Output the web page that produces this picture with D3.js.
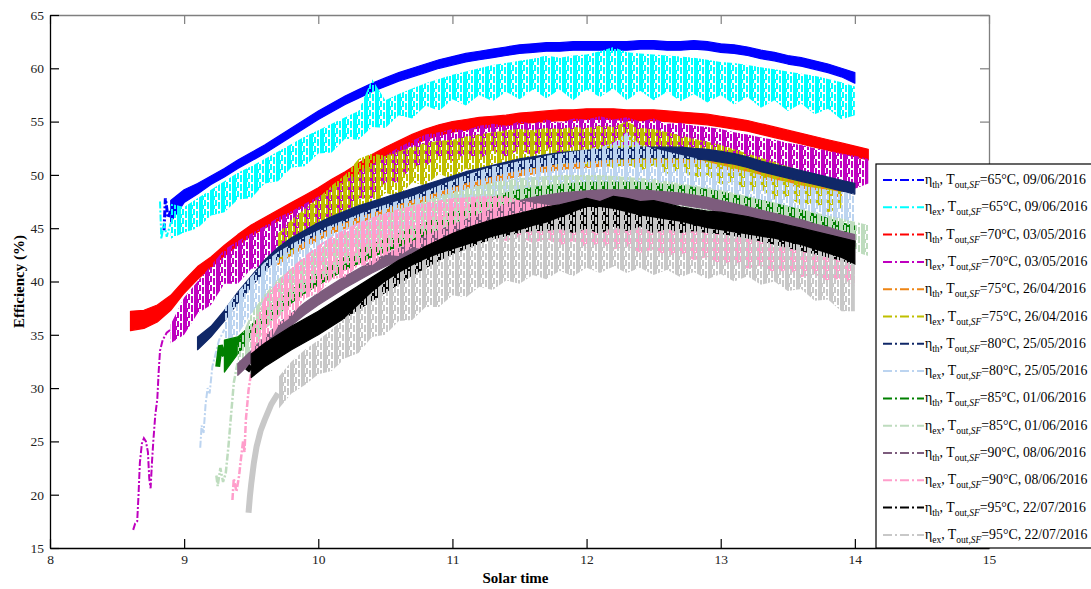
<!DOCTYPE html>
<html><head><meta charset="utf-8">
<script src="https://cdn.jsdelivr.net/npm/d3@7"></script>
<style>body{margin:0;background:#fff;}svg{display:block;}</style>
</head><body>
<svg id="chart" width="1091" height="589"></svg>
<script>
// ---------- data ----------
const solarTime = [8.6,8.7,8.8,8.9,9.0,9.1,9.2,9.3,9.4,9.5,9.6,9.7,9.8,9.9,10.0,10.1,10.2,10.3,10.4,10.5,10.6,10.7,10.8,10.9,11.0,11.1,11.2,11.3,11.4,11.5,11.6,11.7,11.8,11.9,12.0,12.1,12.2,12.3,12.4,12.5,12.6,12.7,12.8,12.9,13.0,13.1,13.2,13.3,13.4,13.5,13.6,13.7,13.8,13.9,14.0,14.1];
const xTicks = [8,9,10,11,12,13,14,15];
const yTicks = [15,20,25,30,35,40,45,50,55,60,65];
const etaSub = ['th','ex','th','ex','th','ex','th','ex','th','ex','th','ex','th','ex'];
const outletTemp = [65,65,70,70,75,75,80,80,85,85,90,90,95,95];
const testDate = ['09/06/2016','09/06/2016','03/05/2016','03/05/2016','26/04/2016','26/04/2016','25/05/2016','25/05/2016','01/06/2016','01/06/2016','08/06/2016','08/06/2016','22/07/2016','22/07/2016'];

// [min, max] efficiency per 0.1 h bin, starting at the given solar time
const blueTh65 = [[45.6,47.6],[47.4,48.6],[48.2,49.2],[49.1,49.9],[49.8,50.6],[50.6,51.4],[51.3,52.1],[52.0,52.8],[52.8,53.6],[53.6,54.4],
[54.4,55.2],[55.2,56.0],[55.9,56.7],[56.6,57.4],[57.2,58.0],[57.8,58.6],[58.3,59.1],[58.8,59.6],[59.2,60.0],[59.6,60.4],
[60.0,60.8],[60.3,61.1],[60.6,61.4],[60.8,61.6],[61.0,61.8],[61.2,62.0],[61.4,62.2],[61.5,62.3],[61.6,62.4],[61.6,62.4],
[61.7,62.5],[61.7,62.5],[61.7,62.5],[61.7,62.5],[61.7,62.5],[61.8,62.6],[61.8,62.6],[61.7,62.5],[61.7,62.5],[61.8,62.6],
[61.7,62.5],[61.5,62.3],[61.4,62.2],[61.2,62.0],[60.9,61.7],[60.7,61.5],[60.4,61.2],[60.2,61.0],[59.9,60.7],[59.6,60.4],
[59.2,60.0],[58.6,59.6]];
const cyanEx65 = [[44.0,47.3],[44.6,47.0],[45.0,47.8],[46.2,48.6],[46.5,49.4],[47.7,50.2],[47.8,50.8],[49.2,51.5],[49.4,52.2],[50.7,52.9],
[50.8,53.6],[52.0,54.2],[52.1,54.8],[53.4,55.4],[53.3,56.0],[54.5,59.0],[54.4,57.0],[55.6,57.6],[55.3,58.1],[56.5,58.6],
[56.0,59.0],[57.1,59.4],[56.5,59.7],[57.5,60.0],[56.9,60.3],[57.8,60.5],[57.1,60.7],[58.0,60.9],[57.2,61.2],[58.0,61.0],
[57.0,61.2],[58.0,61.3],[57.3,61.6],[58.1,62.0],[57.0,61.5],[57.9,61.4],[57.0,61.3],[57.8,61.2],[56.9,61.1],[57.6,61.0],
[56.8,60.8],[57.5,60.6],[56.6,60.5],[57.3,60.3],[56.3,60.1],[57.0,59.9],[56.0,59.7],[56.7,59.5],[55.7,59.3],[56.2,59.0],
[55.2,58.7],[55.6,58.3]];
const redTh70 = [[35.4,37.2],[35.6,37.3],[36.2,37.8],[37.3,38.7],[38.9,40.1],[40.2,41.4],[41.3,42.3],[42.4,43.4],[43.4,44.4],[44.3,45.3],
[45.0,46.0],[45.7,46.7],[46.4,47.4],[47.1,48.1],[47.8,48.8],[48.6,49.6],[49.3,50.3],[50.1,51.1],[50.9,51.9],[51.6,52.6],
[52.2,53.2],[52.8,53.8],[53.3,54.3],[53.7,54.7],[54.0,55.0],[54.2,55.2],[54.4,55.4],[54.5,55.5],[54.6,55.6],[54.8,55.8],
[54.9,55.9],[55.0,56.0],[55.1,56.1],[55.1,56.1],[55.2,56.2],[55.2,56.2],[55.2,56.2],[55.1,56.1],[55.1,56.1],[55.1,56.1],
[55.0,56.0],[54.9,55.9],[54.8,55.8],[54.7,55.7],[54.5,55.5],[54.3,55.3],[54.1,55.1],[53.8,54.8],[53.5,54.5],[53.2,54.2],
[52.9,53.9],[52.6,53.6],[52.3,53.3],[52.0,53.0],[51.7,52.7],[51.4,52.4]];
const magentaEx70 = [[34.2,36.0],[35.0,38.5],[37.0,40.0],[37.8,41.5],[39.8,43.0],[39.8,43.8],[41.2,44.5],[41.3,45.2],[42.8,46.0],[42.8,46.6],
[44.5,47.3],[44.8,48.0],[46.2,48.8],[46.3,49.6],[47.8,50.3],[47.8,51.0],[49.3,51.8],[49.3,52.6],[50.8,53.2],[50.8,53.8],
[51.8,54.0],[51.3,54.3],[52.0,54.2],[51.5,54.6],[52.3,54.8],[51.7,54.6],[52.4,55.0],[51.8,54.8],[52.6,55.2],[51.9,54.9],
[52.7,55.3],[52.1,55.2],[52.7,55.5],[52.1,55.2],[52.6,55.4],[52.0,55.0],[52.5,55.3],[51.7,54.8],[52.3,54.9],[51.4,54.6],
[51.9,54.5],[51.0,54.3],[51.5,54.0],[50.6,53.8],[51.0,53.5],[50.1,53.3],[50.5,53.0],[49.6,52.8],[50.0,52.5],[49.1,52.3],
[49.6,52.0],[48.7,51.8],[49.2,51.5]];
const orangeTh75 = [[41.6,42.4],[42.5,43.3],[43.2,44.0],[43.9,44.7],[44.5,45.3],[45.0,45.8],[45.5,46.3],[45.9,46.7],[46.3,47.1],[46.7,47.5],
[47.1,47.9],[47.5,48.3],[47.9,48.7],[48.3,49.1],[48.7,49.5],[49.0,49.8],[49.3,50.1],[49.6,50.4],[49.9,50.7],[50.1,50.9],
[50.3,51.1],[50.5,51.3],[50.6,51.4],[50.7,51.5],[50.8,51.6],[50.9,51.7],[50.9,51.7],[51.0,51.8],[51.0,51.8],[51.0,51.8],
[51.0,51.8],[50.9,51.7],[50.8,51.6],[50.6,51.4],[50.4,51.2],[50.1,50.9],[49.7,50.5],[49.4,50.2],[49.1,49.9],[48.8,49.6],
[48.5,49.3],[48.2,49.0],[47.9,48.7]];
const yellowEx75 = [[42.0,44.5],[42.6,45.8],[44.0,46.8],[44.4,47.8],[45.8,49.0],[45.9,50.0],[47.2,51.5],[47.0,52.0],[48.3,51.8],[48.0,52.2],
[49.3,52.6],[49.0,53.0],[50.1,53.2],[49.6,53.3],[50.6,53.6],[50.1,53.8],[51.0,54.0],[50.5,54.2],[51.2,54.3],[50.6,54.2],
[51.3,54.4],[50.8,54.3],[51.4,54.5],[50.8,54.4],[51.3,54.6],[50.6,54.5],[51.1,55.0],[50.4,54.4],[50.9,54.3],[50.1,54.0],
[50.5,53.7],[49.7,53.4],[50.0,53.1],[49.1,52.8],[49.4,52.4],[48.4,52.0],[48.7,51.6],[47.7,51.2],[48.0,50.8],[47.1,50.4],
[47.4,50.0],[46.5,49.6],[46.9,49.3]];
const navyTh80 = [[33.6,34.8],[34.8,35.8],[36.3,37.3],[38.0,39.0],[39.5,40.5],[41.0,42.0],[42.2,43.2],[43.1,44.1],[43.8,44.8],[44.5,45.5],
[45.1,46.1],[45.6,46.6],[46.1,47.1],[46.5,47.5],[46.9,47.9],[47.3,48.3],[47.7,48.7],[48.1,49.1],[48.5,49.5],[48.9,49.9],
[49.3,50.3],[49.6,50.6],[49.9,50.9],[50.2,51.2],[50.5,51.5],[50.7,51.7],[50.9,51.9],[51.1,52.1],[51.2,52.2],[51.3,52.3],
[51.4,52.4],[51.5,52.5],[51.5,52.5],[51.6,52.6],[51.6,52.6],[51.6,52.6],[51.6,52.6],[51.5,52.5],[51.4,52.4],[51.2,52.2],
[51.0,52.0],[50.7,51.7],[50.3,51.3],[50.0,51.0],[49.7,50.7],[49.4,50.4],[49.1,50.1],[48.8,49.8],[48.5,49.5],[48.2,49.2]];
const lightBlueEx80 = [[34.0,37.5],[35.0,39.0],[37.0,40.5],[38.0,41.8],[39.5,42.8],[40.0,43.5],[41.2,44.2],[41.3,44.8],[42.5,45.3],[42.5,45.8],
[43.5,46.3],[43.5,46.8],[44.5,47.2],[44.5,47.6],[45.5,48.0],[45.5,48.5],[46.4,49.0],[46.3,49.5],[47.2,50.0],[47.0,50.4],
[48.0,50.8],[47.6,51.0],[48.6,51.3],[48.1,51.5],[49.0,51.8],[48.4,52.0],[49.2,52.2],[48.6,52.4],[49.3,52.6],[48.7,53.0],
[49.2,54.0],[48.5,52.8],[49.0,52.5],[48.3,52.2],[48.8,51.9],[48.0,51.6],[48.4,51.2],[47.6,50.9],[47.9,50.6],[47.0,50.3],
[47.3,50.0],[46.4,49.6],[46.8,49.3],[45.9,49.0],[46.3,48.8],[45.5,48.6],[45.9,48.4],[45.2,48.2]];
const greenTh85 = [[31.5,34.5],[33.2,34.8],[34.7,35.9],[35.9,37.1],[37.0,38.2],[38.0,39.2],[38.9,40.1],[39.7,40.9],[40.4,41.6],[41.1,42.3],
[41.7,42.9],[42.3,43.5],[42.8,44.0],[43.3,44.5],[43.8,45.0],[44.3,45.5],[44.8,46.0],[45.3,46.5],[45.8,47.0],[46.3,47.5],
[46.7,47.9],[47.1,48.3],[47.4,48.6],[47.6,48.8],[47.8,49.0],[47.9,49.1],[48.0,49.2],[48.1,49.3],[48.1,49.3],[48.1,49.3],
[48.1,49.3],[48.1,49.3],[48.0,49.2],[47.9,49.1],[47.8,49.0],[47.6,48.8],[47.4,48.6],[47.2,48.4],[46.9,48.1],[46.7,47.9],
[46.4,47.6],[46.1,47.3],[45.8,47.0],[45.5,46.7],[45.1,46.3],[44.7,45.9],[44.3,45.5],[43.6,45.2]];
const paleGreenEx85 = [[31.5,34.0],[33.0,37.0],[35.5,38.8],[36.5,40.2],[38.3,41.2],[39.0,42.2],[40.3,43.0],[40.5,43.8],[41.7,44.5],[41.8,45.2],
[42.9,45.8],[42.9,46.3],[43.9,46.8],[43.9,47.2],[44.8,47.6],[44.7,48.0],[45.5,48.4],[45.3,48.7],[46.1,49.0],[45.9,49.3],
[46.6,49.5],[46.3,49.7],[47.0,49.8],[46.6,49.9],[47.2,50.0],[46.8,50.0],[47.3,50.0],[46.8,50.0],[47.3,49.9],[46.7,49.8],
[47.1,49.7],[46.5,49.6],[46.9,49.4],[46.3,49.2],[46.6,49.0],[45.9,48.8],[46.2,48.6],[45.5,48.3],[45.7,48.0],[44.9,47.7],
[45.1,47.4],[44.3,47.1],[44.5,46.8],[43.6,46.5],[43.7,46.2],[42.8,45.9],[42.8,45.6],[42.4,45.3]];
const mauveTh90 = [[31.2,32.3],[32.4,33.5],[33.7,34.8],[34.9,36.0],[35.9,37.0],[36.9,38.0],[37.8,38.9],[38.6,39.7],[39.4,40.5],[40.1,41.2],
[40.8,41.9],[41.4,42.5],[42.0,43.1],[42.6,43.7],[43.2,44.3],[43.7,44.8],[44.2,45.3],[44.7,45.8],[45.2,46.3],[45.7,46.8],
[46.1,47.2],[46.5,47.6],[46.8,47.9],[47.0,48.1],[47.2,48.3],[47.3,48.4],[47.4,48.5],[47.5,48.6],[47.5,48.6],[47.5,48.6],
[47.5,48.6],[47.4,48.5],[47.3,48.4],[47.2,48.3],[47.0,48.1],[46.8,47.9],[46.5,47.6],[46.2,47.3],[45.9,47.0],[45.6,46.7],
[45.3,46.4],[45.0,46.1],[44.7,45.8],[44.3,45.4],[44.0,45.1],[43.6,44.7],[43.3,44.4]];
const pinkEx90 = [[31.5,35.5],[33.5,38.5],[35.8,40.0],[36.7,41.3],[38.4,42.4],[38.9,43.4],[40.2,44.2],[40.4,44.9],[41.5,45.5],[41.5,46.0],
[42.5,46.4],[42.4,46.8],[43.2,47.1],[43.0,47.4],[43.7,47.6],[43.4,47.8],[44.0,47.9],[43.6,48.0],[44.2,48.0],[43.8,48.0],
[44.2,47.6],[43.6,47.4],[44.0,47.2],[43.4,47.0],[43.8,46.8],[43.2,46.6],[43.6,46.4],[43.0,46.2],[43.3,46.0],[42.7,45.9],
[43.0,45.8],[42.4,45.7],[42.7,45.6],[42.0,45.4],[42.3,45.2],[41.6,45.0],[41.9,44.9],[41.2,44.8],[41.5,44.6],[40.8,44.5],
[41.1,44.3],[40.4,44.1],[40.7,43.9],[40.0,43.7],[40.3,43.5],[39.6,43.3]];
const blackTh95 = [[31.0,33.2],[32.0,34.2],[32.8,35.0],[33.6,35.8],[34.3,36.5],[35.0,37.2],[35.8,38.0],[36.6,38.8],[37.4,39.6],[38.2,40.4],
[39.0,41.2],[39.8,42.0],[40.6,42.6],[41.3,43.3],[42.0,43.9],[42.6,44.5],[43.1,45.0],[43.6,45.4],[44.0,45.8],[44.3,46.1],
[44.6,46.4],[44.8,46.7],[44.8,47.0],[45.0,47.2],[44.6,47.5],[45.0,47.8],[44.5,47.5],[45.2,48.0],[44.8,47.8],[45.2,47.5],
[44.6,47.6],[45.0,47.3],[44.6,47.0],[44.8,46.8],[44.6,46.6],[44.5,46.5],[44.3,46.3],[44.1,46.1],[43.8,45.8],[43.5,45.6],
[43.2,45.3],[42.9,45.0],[42.6,44.7],[42.3,44.4],[42.0,44.1],[41.6,43.8]];
const grayEx95 = [[28.0,31.0],[29.5,32.5],[30.3,33.6],[31.3,34.5],[31.6,35.5],[32.8,36.6],[33.3,37.8],[34.8,39.0],[35.0,40.0],[36.3,40.8],
[36.4,41.5],[37.6,42.1],[37.6,42.6],[38.7,43.0],[38.5,43.4],[39.5,43.8],[39.2,44.2],[40.1,44.5],[39.8,44.8],[40.6,45.2],
[40.2,45.5],[41.0,46.0],[40.5,46.5],[41.3,47.0],[40.8,47.0],[41.4,46.8],[40.8,46.5],[41.3,46.2],[40.6,46.0],[41.1,45.8],
[40.4,45.6],[40.9,45.3],[40.2,45.0],[40.7,44.8],[40.0,44.6],[40.5,44.4],[39.7,44.2],[40.0,44.0],[39.1,43.7],[39.3,43.4],
[38.2,43.0],[38.3,42.6],[37.2,42.2],[37.2,41.6]];

// start-up traces [solar time, efficiency]
const blueHead = [[8.85,44.8],[8.86,47.8],[8.88,46.0],[8.9,46.6]];
const cyanHead = [[8.82,47.5],[8.83,44.0],[8.85,45.5],[8.87,44.2],[8.9,45.5]];
const magentaHead = [[8.62,16.7],[8.635,17.3],[8.65,17.5],[8.66,20.0],[8.67,23.0],[8.685,24.8],[8.7,25.3],[8.715,25.0],[8.73,24.0],[8.74,21.5],[8.75,20.6],[8.76,23.0],[8.77,25.0],[8.785,27.5],[8.8,29.0],[8.81,31.5],[8.82,33.5],[8.84,34.5],[8.87,35.2],[8.9,35.5]];
const lightBlueHead = [[9.12,24.4],[9.13,26.5],[9.145,25.8],[9.16,28.5],[9.175,30.0],[9.19,29.5],[9.21,32.0],[9.23,33.0],[9.26,34.5],[9.3,35.5]];
const greenHead = [[9.25,32.0],[9.27,34.0],[9.3,33.0]];
const paleGreenHead = [[9.24,21.8],[9.25,20.8],[9.27,22.5],[9.29,21.2],[9.31,22.0],[9.33,24.5],[9.35,27.5],[9.37,30.5],[9.4,32.5]];
const pinkHead = [[9.36,19.5],[9.37,21.5],[9.39,20.3],[9.41,21.8],[9.42,23.0],[9.44,25.1],[9.45,24.0],[9.46,27.0],[9.48,29.8],[9.5,31.5]];
const blackHead = [[9.47,31.6],[9.5,32.1]];
const grayHead = [[9.48,18.3],[9.49,19.8],[9.5,21.0],[9.52,23.0],[9.54,24.5],[9.57,26.0],[9.6,27.0],[9.65,28.5],[9.7,29.5]];

// ---------- series set-up (style kept apart from data) ----------
const series = [
  {band: blueTh65, start: 8.9, head: blueHead, kind: 'th', color: '#0000ff', headW: 3},
  {band: cyanEx65, start: 8.9, head: cyanHead, kind: 'ex', color: '#00ffff', headW: 2},
  {band: redTh70, start: 8.6, head: null, kind: 'th', color: '#ff0000'},
  {band: magentaEx70, start: 8.9, head: magentaHead, kind: 'ex', color: '#bf00bf', headW: 2},
  {band: orangeTh75, start: 9.7, head: null, kind: 'th', color: '#ee8514'},
  {band: yellowEx75, start: 9.7, head: null, kind: 'ex', color: '#bfbf00'},
  {band: navyTh80, start: 9.1, head: null, kind: 'th', color: '#102868'},
  {band: lightBlueEx80, start: 9.3, head: lightBlueHead, kind: 'ex', color: '#bcd4f0', headW: 2},
  {band: greenTh85, start: 9.3, head: greenHead, kind: 'th', color: '#008000', headW: 5},
  {band: paleGreenEx85, start: 9.4, head: paleGreenHead, kind: 'ex', color: '#bedcbe', headW: 2.5},
  {band: mauveTh90, start: 9.4, head: null, kind: 'th', color: '#7d5c7d'},
  {band: pinkEx90, start: 9.5, head: pinkHead, kind: 'ex', color: '#ff9ecb', headW: 2.5},
  {band: blackTh95, start: 9.5, head: blackHead, kind: 'th', color: '#000000', headW: 5},
  {band: grayEx95, start: 9.7, head: grayHead, kind: 'ex', color: '#c8c8c8', headW: 6}
];
// texture of the dense, noisy exergy signals: vertical streaks [x, y, w, h] inside an 11x9 tile
const streakTile = [[0,0,2,9],[2,5,1,4],[3,0,2,6],[6,2,2,7],[9,0,2,9]];

// ---------- drawing ----------
const svg = d3.select('#chart');
const L = 50, R = 989, T = 15, B = 548;
const x = d3.scaleLinear().domain([8, 15]).range([L, R]);
const y = d3.scaleLinear().domain([15, 65]).range([B, T]);
const serif = '"Liberation Serif","Times New Roman",serif';

const defs = svg.append('defs');
defs.append('clipPath').attr('id', 'plotClip')
  .append('rect').attr('x', L).attr('y', T).attr('width', R - L).attr('height', B - T);
series.forEach((s, k) => {
  if (s.kind !== 'ex') return;
  const p = defs.append('pattern').attr('id', 'tex' + k).attr('patternUnits', 'userSpaceOnUse')
    .attr('width', 11).attr('height', 9).attr('x', k * 3).attr('y', k * 2);
  streakTile.forEach(r => p.append('rect').attr('x', r[0]).attr('y', r[1])
    .attr('width', r[2]).attr('height', r[3]).attr('fill', s.color));
});
const plot = svg.append('g').attr('clip-path', 'url(#plotClip)');

const area = d3.area().x(d => x(d.t)).y0(d => y(d.r[0])).y1(d => y(d.r[1]));
const line = d3.line().x(d => x(d[0])).y(d => y(d[1]));

series.forEach((s, k) => {
  const off = solarTime.indexOf(s.start);
  const pts = s.band.map((r, j) => ({t: solarTime[off + j], r}));
  if (s.head) {
    plot.append('path').datum(s.head).attr('d', line)
      .attr('fill', 'none').attr('stroke', s.color).attr('stroke-width', s.headW)
      .attr('stroke-dasharray', s.headW > 3 ? null : '7,2,2,2');
  }
  if (s.kind === 'th') {
    plot.append('path').datum(pts).attr('d', area)
      .attr('fill', s.color).attr('stroke', s.color).attr('stroke-width', 1.2)
      .attr('stroke-linejoin', 'round');
  } else {
    plot.append('path').datum(pts).attr('d', area)
      .attr('fill', `url(#tex${k})`);
  }
});

// axes
function styleAxis(g, col) {
  g.select('.domain').attr('stroke', col).attr('stroke-width', 1.3);
  g.selectAll('.tick line').attr('stroke', col).attr('stroke-width', 1.2);
  g.selectAll('.tick text').attr('font-family', serif).attr('font-size', 13.5).attr('fill', '#222');
}
svg.append('g').attr('transform', `translate(0,${T})`)
  .call(d3.axisTop(x).tickValues(xTicks).tickSizeInner(-9).tickSizeOuter(0).tickFormat(''))
  .call(g => styleAxis(g, '#7f7f7f'));
svg.append('g').attr('transform', `translate(${R},0)`)
  .call(d3.axisRight(y).tickValues(yTicks).tickSizeInner(-9).tickSizeOuter(0).tickFormat(''))
  .call(g => styleAxis(g, '#7f7f7f'));
svg.append('g').attr('transform', `translate(0,${B})`)
  .call(d3.axisBottom(x).tickValues(xTicks).tickSizeInner(-9).tickSizeOuter(0).tickPadding(6).tickFormat(d3.format('d')))
  .call(g => styleAxis(g, '#000'));
svg.append('g').attr('transform', `translate(${L},0)`)
  .call(d3.axisLeft(y).tickValues(yTicks).tickSizeInner(-9).tickSizeOuter(0).tickPadding(6).tickFormat(d3.format('d')))
  .call(g => styleAxis(g, '#000'));

svg.append('text').attr('x', (L + R) / 2 - 4).attr('y', 583).attr('text-anchor', 'middle')
  .attr('font-family', serif).attr('font-size', 15).attr('font-weight', 'bold').text('Solar time');
svg.append('text').attr('transform', `translate(24,${(T + B) / 2}) rotate(-90)`).attr('text-anchor', 'middle')
  .attr('font-family', serif).attr('font-size', 15).attr('font-weight', 'bold').text('Efficiency (%)');

// legend
const lg = svg.append('g');
lg.append('rect').attr('x', 876).attr('y', 164).attr('width', 240).attr('height', B - 164)
  .attr('fill', '#fff').attr('stroke', '#000').attr('stroke-width', 1.2);
series.forEach((s, k) => {
  const cy = 180 + k * 27.3;
  lg.append('line').attr('x1', 883).attr('x2', 924).attr('y1', cy).attr('y2', cy)
    .attr('stroke', s.color).attr('stroke-width', 2).attr('stroke-dasharray', '9,3,2,3');
  const t = lg.append('text').attr('x', 925).attr('y', cy + 4)
    .attr('font-family', serif).attr('font-size', 13.8).attr('fill', '#000');
  t.append('tspan').text('η');
  t.append('tspan').attr('font-size', 9.5).attr('dy', 4).text(etaSub[k]);
  t.append('tspan').attr('dy', -4).text(', T');
  t.append('tspan').attr('font-size', 9.5).attr('dy', 4).text('out,');
  t.append('tspan').attr('font-size', 9.5).attr('font-style', 'italic').text('SF');
  t.append('tspan').attr('dy', -4).text(`=${outletTemp[k]}°C, ${testDate[k]}`);
});
</script>
</body></html>
